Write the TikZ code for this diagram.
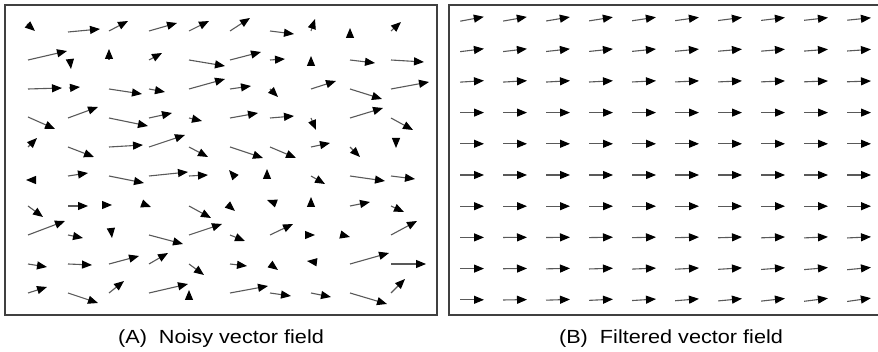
\documentclass[tikz,border=0pt]{standalone}
\usepackage{fontspec}
\setmainfont{Liberation Sans}
\newfontfamily\capfont[FakeStretch=1.14]{Liberation Sans}
\usetikzlibrary{arrows.meta}

\begin{document}
\begin{tikzpicture}[
  x=1pt, y=-1pt,
  frame/.style={draw=black!75, line width=2pt},
  vec/.style={-{Triangle[length=10pt, width=8pt, color=black]}, draw=black!65, line width=1.1pt},
  caption/.style={font=\capfont\fontsize{19}{22}\selectfont, inner sep=0pt, anchor=base}
]
\useasboundingbox (0,0) rectangle (878,352);
\draw[frame] (5,5) rectangle (437,315);
\draw[frame] (449,5) rectangle (882,315);
\foreach \xa/\ya/\xb/\yb in {
  27/24/35/31, 68/32/100/29, 109/31/128/21, 149/31/177/23, 189/31/209/21,
  230/31/250/18, 270/31/294/34, 311/31/315/19, 350/36/350/28, 391/31/401/22,
  28/60/67/51, 70/60/71/69, 109/60/109/49, 149/60/162/53, 189/60/225/66,
  230/60/261/52, 270/60/285/59, 311/64/311/56, 350/60/375/63, 391/60/424/62,
  28/89/62/88, 69/88/80/87, 109/89/142/94, 149/89/165/92, 189/89/225/79,
  230/89/251/86, 270/89/278/97, 311/89/336/81, 350/89/382/99, 391/89/429/82,
  28/117/55/129, 68/118/98/107, 109/118/148/126, 149/118/172/113, 189/118/202/121,
  230/118/258/113, 270/118/294/116, 311/118/316/130, 350/118/383/108, 391/118/413/130,
  28/147/37/138, 68/147/94/157, 109/147/143/145, 149/147/185/135, 189/147/208/157,
  230/147/263/158, 270/147/296/158, 311/147/330/143, 350/147/360/157, 396/139/396/148,
  33/180/26/180, 68/176/88/173, 109/176/144/183, 149/176/188/172, 189/176/208/175,
  235/177/229/170, 267/178/267/169, 311/176/325/184, 350/176/385/181, 391/176/415/179,
  28/206/43/217, 68/206/88/206, 104/205/112/205, 143/204/151/207, 189/206/211/218,
  228/205/235/211, 275/203/267/200, 311/206/311/197, 350/206/370/202, 391/206/404/212,
  28/235/65/221, 68/235/83/238, 111/229/112/238, 149/235/183/244, 189/235/222/224,
  230/235/245/241, 270/235/293/224, 307/235/315/235, 342/235/350/237, 391/235/417/221,
  28/264/47/267, 68/264/92/265, 109/264/139/256, 149/264/168/253, 189/264/204/275,
  230/264/247/266, 270/264/278/270, 315/262/307/261, 350/264/389/253, 391/264/426/264,
  28/293/47/287, 68/293/98/303, 109/293/124/281, 149/293/188/284, 189/298/189/290,
  230/293/268/286, 270/293/291/296, 311/293/331/297, 350/293/387/304, 391/293/405/279}
  \draw[vec] (\xa,\ya) -- (\xb,\yb);
\foreach \r in {0,...,9}
  \foreach \c in {0,...,9} {
    \pgfmathsetmacro\ang{max(0,3-\r)*3.5*(1-0.05*\c)+max(0,\r-6)*0.3*\c}
    \draw[vec] ({472+43*\c},{19+31.2*\r}) ++({180-\ang}:12) -- ++({-\ang}:24);
  }
\node[caption] (capA) at (221,344) {(A)\ \ Noisy vector field};
\node[caption] (capB) at (671,344) {(B)\ \ Filtered vector field};
\end{tikzpicture}
\end{document}
